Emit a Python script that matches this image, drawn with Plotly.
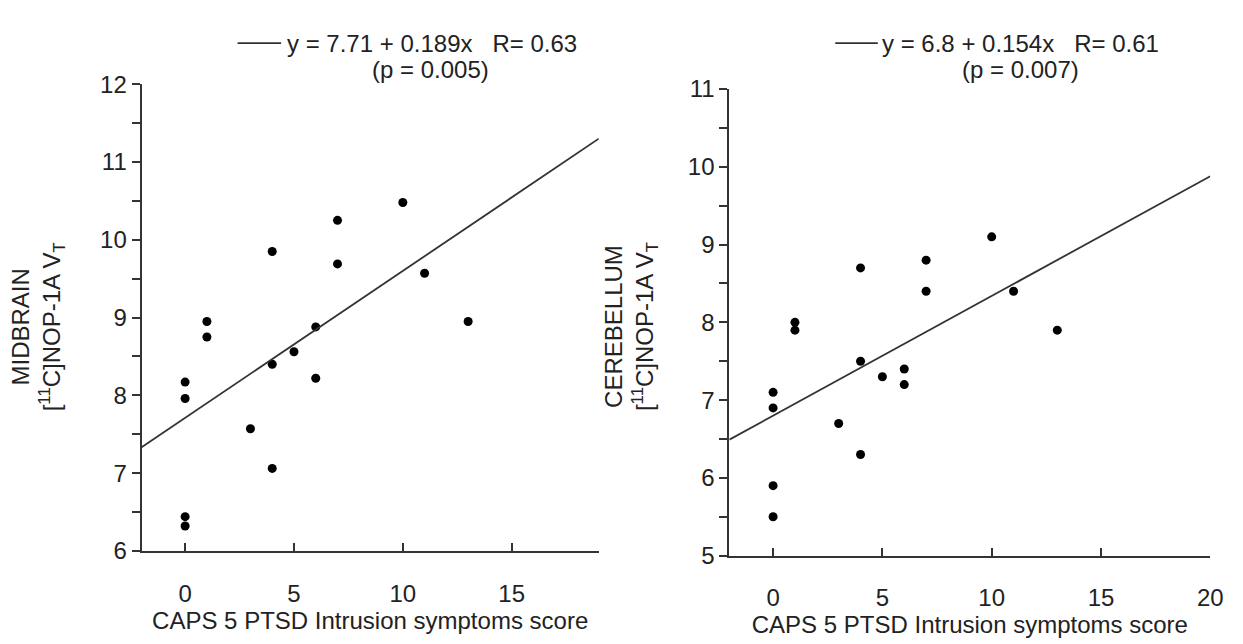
import plotly.graph_objects as go
import numpy as np

# Midbrain panel data
mid_x = [0, 0, 0, 0, 1, 1, 3, 4, 4, 4, 5, 6, 6, 7, 7, 10, 11, 13]
mid_y = [6.44, 6.32, 7.96, 8.17, 8.95, 8.75, 7.57, 9.85, 8.4, 7.06, 8.56, 8.88, 8.22, 10.25, 9.69, 10.48, 9.57, 8.95]
mid_a, mid_b = 7.71, 0.189

# Cerebellum panel data
cer_x = [0, 0, 0, 0, 1, 1, 3, 4, 4, 4, 5, 6, 6, 7, 7, 10, 11, 13]
cer_y = [7.1, 6.9, 5.9, 5.5, 8.0, 7.9, 6.7, 8.7, 7.5, 6.3, 7.3, 7.4, 7.2, 8.8, 8.4, 9.1, 8.4, 7.9]
cer_a, cer_b = 6.8, 0.154

mid_xrange = [-2, 19]
cer_xrange = [-2, 20]

FONT = "Liberation Sans, Arial, sans-serif"
INK = "#222222"
AX = "#333333"
FS = 24

fig = go.Figure()

fig.add_trace(go.Scatter(x=mid_x, y=mid_y, mode="markers",
                         marker=dict(color="black", size=9), xaxis="x", yaxis="y", showlegend=False))
fig.add_trace(go.Scatter(x=cer_x, y=cer_y, mode="markers",
                         marker=dict(color="black", size=9), xaxis="x2", yaxis="y2", showlegend=False))

lx = np.array(mid_xrange, dtype=float)
fig.add_trace(go.Scatter(x=lx, y=mid_a + mid_b * lx, mode="lines",
                         line=dict(color=AX, width=1.8), xaxis="x", yaxis="y", showlegend=False))
rx = np.array(cer_xrange, dtype=float)
fig.add_trace(go.Scatter(x=rx, y=cer_a + cer_b * rx, mode="lines",
                         line=dict(color=AX, width=1.8), xaxis="x2", yaxis="y2", showlegend=False))

W, H = 1243, 644
def px(v): return v / W
def py(v): return 1 - v / H

xcommon = dict(showline=True, linecolor=AX, linewidth=2, ticks="inside", ticklen=8,
               tickwidth=1.5, tickcolor=AX, showgrid=False, zeroline=False,
               tickfont=dict(family=FONT, size=FS, color=INK), ticklabelstandoff=20,
               title=dict(text="CAPS 5 PTSD Intrusion symptoms score",
                          font=dict(family=FONT, size=FS, color=INK), standoff=6))
ycommon = dict(showline=True, linecolor=AX, linewidth=2, ticks="outside", ticklen=8,
               tickwidth=1.5, tickcolor=AX, showgrid=False, zeroline=False, dtick=1,
               tickfont=dict(family=FONT, size=FS, color=INK),
               minor=dict(dtick=0.5, ticks="outside", ticklen=8, tickwidth=1.5, tickcolor=AX))

fig.update_layout(
    width=W, height=H,
    margin=dict(l=0, r=0, t=0, b=0),
    plot_bgcolor="white", paper_bgcolor="white",
    xaxis=dict(xcommon, domain=[px(135), px(597)], range=mid_xrange, anchor="y",
               tickvals=[0, 5, 10, 15]),
    yaxis=dict(ycommon, domain=[py(552), py(65)], range=[6, 12], anchor="x"),
    xaxis2=dict(xcommon, domain=[px(729), px(1215)], range=cer_xrange, anchor="y2",
                tickvals=[0, 5, 10, 15, 20]),
    yaxis2=dict(ycommon, domain=[py(557), py(70)], range=[5, 11], anchor="x2"),
)

ann_font = dict(family=FONT, size=FS, color=INK)
annotations = [
    dict(text="MIDBRAIN<br>[<sup>11</sup>C]NOP-1A V<sub>T</sub>", textangle=-90,
         x=px(30), y=py(318), xref="paper", yref="paper", showarrow=False,
         xanchor="center", yanchor="middle", font=ann_font, align="center"),
    dict(text="CEREBELLUM<br>[<sup>11</sup>C]NOP-1A V<sub>T</sub>", textangle=-90,
         x=px(629), y=py(318), xref="paper", yref="paper", showarrow=False,
         xanchor="center", yanchor="middle", font=ann_font, align="center"),
    dict(text="y = 7.71 + 0.189x   R= 0.63", x=px(280), y=py(22), xref="paper", yref="paper",
         xanchor="left", yanchor="middle", showarrow=False, font=ann_font),
    dict(text="(p = 0.005)", x=px(427), y=py(50), xref="paper", yref="paper",
         xanchor="center", yanchor="middle", showarrow=False, font=ann_font),
    dict(text="y = 6.8 + 0.154x   R= 0.61", x=px(881), y=py(22), xref="paper", yref="paper",
         xanchor="left", yanchor="middle", showarrow=False, font=ann_font),
    dict(text="(p = 0.007)", x=px(1023), y=py(50), xref="paper", yref="paper",
         xanchor="center", yanchor="middle", showarrow=False, font=ann_font),
]
fig.update_layout(annotations=annotations)

fig.update_layout(shapes=[
    dict(type="line", xref="paper", yref="paper", x0=px(232), x1=px(276), y0=py(22), y1=py(22),
         line=dict(color=AX, width=1.8)),
    dict(type="line", xref="paper", yref="paper", x0=px(836), x1=px(879), y0=py(22), y1=py(22),
         line=dict(color=AX, width=1.8)),
])

fig.write_html("out.html")
